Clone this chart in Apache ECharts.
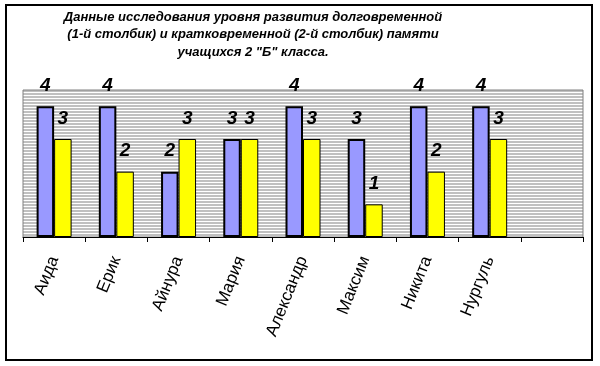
<!DOCTYPE html>
<html><head><meta charset="utf-8">
<script src="https://cdn.jsdelivr.net/npm/echarts@6/dist/echarts.min.js"></script>
<style>html,body{margin:0;padding:0;background:#fff}#c{width:600px;height:366px}</style>
</head><body><div id="c"></div>
<script>
var categories = ['Аида','Ерик','Айнура','Мария','Александр','Максим','Никита','Нургуль',''];
var longTerm = [4,4,2,3,4,3,4,4,null];
var shortTerm = [3,2,3,3,3,1,2,3,null];
var titleLines = ['Данные исследования уровня развития долговременной','(1-й столбик) и кратковременной (2-й столбик) памяти','учащихся 2 "Б" класса.'];

var pc = document.createElement('canvas');
pc.width = 4; pc.height = 3;
var g = pc.getContext('2d');
g.fillStyle = '#c0c0c0'; g.fillRect(0,0,4,3);
g.fillStyle = '#ffffff'; g.fillRect(0,2,4,1);

var chart = echarts.init(document.getElementById('c'), null, {renderer:'canvas'});
var F = '"Liberation Sans", Arial, sans-serif';
var lbl = {show:true, position:'top', distance:11, fontSize:19, fontWeight:'bold', fontStyle:'italic', fontFamily:F, color:'#000'};
chart.setOption({
  animation:false,
  backgroundColor:'#fff',
  grid:{left:23, right:17, top:90, bottom:129, show:true, backgroundColor:{image:pc, repeat:'repeat'}, borderColor:'#808080', borderWidth:1},
  graphic: titleLines.map(function(t,i){
    return {type:'text', x:253, y:17+i*17.5, style:{text:t, fill:'#000', font:'italic bold 13px '+F, textAlign:'center', textVerticalAlign:'middle'}};
  }).concat([{type:'rect', shape:{x:6,y:5,width:586,height:355}, style:{fill:null, stroke:'#000', lineWidth:2}, z:100}]),
  xAxis:{type:'category', data:categories, boundaryGap:true,
    axisLine:{lineStyle:{color:'#000', width:1}},
    axisTick:{show:true, length:5, interval:0, lineStyle:{color:'#000'}},
    axisLabel:{interval:0, rotate:68, margin:20, fontSize:17, fontFamily:F, color:'#000'}},
  yAxis:{type:'value', min:0, max:4.5, show:false, splitLine:{show:false}},
  series:[
    {type:'bar', data:longTerm, barWidth:17.5, barGap:'0%', itemStyle:{color:'#9999ff', borderColor:'#000', borderWidth:2}, label:lbl},
    {type:'bar', data:shortTerm, barWidth:17.5, barGap:'0%', itemStyle:{color:'#ffff00', borderColor:'#000', borderWidth:1}, label:lbl}
  ]
});
</script></body></html>
